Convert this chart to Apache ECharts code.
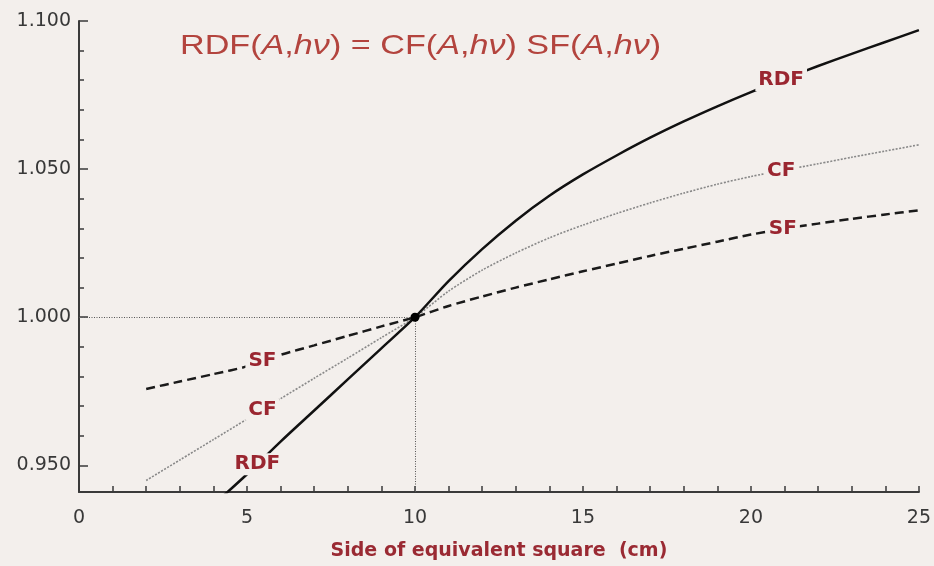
<!DOCTYPE html>
<html><head><meta charset="utf-8">
<script src="https://cdn.jsdelivr.net/npm/echarts@6/dist/echarts.min.js"></script>
<style>html,body{margin:0;padding:0;background:#f3efec;}#c{width:934px;height:566px;}</style>
</head><body><div id="c"></div>
<script>
// Side of equivalent square (cm)
const xSide = [2,3,4,5,6,7,8,9,10,11,12,13,14,15,16,17,18,19,20,21,22,23,24,25];
// CF(A,hv) - collimator factor (dotted)
const cfValues = [0.9449,0.9518,0.9587,0.9656,0.9725,0.9794,0.9862,0.9931,1.0000,1.0088,1.0159,1.0217,1.0268,1.0311,1.0350,1.0386,1.0419,1.0449,1.0475,1.0497,1.0518,1.0540,1.0561,1.0582];
// SF(A,hv) - phantom scatter factor (dashed)
const sfValues = [0.9758,0.9783,0.9808,0.9834,0.9873,0.9905,0.9937,0.9969,1.0000,1.0038,1.0070,1.0100,1.0128,1.0155,1.0181,1.0207,1.0231,1.0255,1.0279,1.0299,1.0316,1.0332,1.0347,1.0361];
// RDF(A,hv) (solid), starts below the axis minimum
const xSideRDF = [4,5,6,7,8,9,10,11,12,13,14,15,16,17,18,19,20,21,22,23,24,25];
const rdfValues = [0.9367,0.9470,0.9580,0.9685,0.9790,0.9895,1.0000,1.0122,1.0230,1.0326,1.0410,1.0482,1.0546,1.0606,1.0661,1.0712,1.0760,1.0805,1.0848,1.0889,1.0929,1.0969];
// reference field (10 cm, 1.000)
const refPoint = [10, 1.000];
// axis ticks and labels
const xLabelValues = [0,5,10,15,20,25];
const yMajorTicks = [0.95,1.00,1.05,1.10];
const yMinorTicks = [0.95,0.96,0.97,0.98,0.99,1.00,1.01,1.02,1.03,1.04,1.05,1.06,1.07,1.08,1.09,1.10];
// curve labels: text and the side (cm) along the curve where it sits
const curveLabelNames = ['RDF','CF','SF','SF','CF','RDF'];
const curveLabelSides = [20.9,20.9,20.95,5.46,5.46,5.31];

const BG = '#f3efec';
const LABEL_RED = '#9a2630';

function interp(xs, ys, x) {
  for (let i = 0; i < xs.length - 1; i++) {
    if (x >= xs[i] && x <= xs[i+1]) {
      const t = (x - xs[i]) / (xs[i+1] - xs[i]);
      return ys[i] + t * (ys[i+1] - ys[i]);
    }
  }
  return ys[ys.length-1];
}
const curveData = {
  RDF: [xSideRDF, rdfValues],
  CF: [xSide, cfValues],
  SF: [xSide, sfValues]
};
const labelPoints = curveLabelNames.map((n, i) => {
  const c = curveData[n];
  return { value: [curveLabelSides[i], interp(c[0], c[1], curveLabelSides[i])], name: n };
});

const zip = (xs, ys) => xs.map((x, i) => [x, ys[i]]);
const yMin = 0.941, yMax = 1.10;

const chart = echarts.init(document.getElementById('c'));
chart.setOption({
  backgroundColor: BG,
  animation: false,
  grid: { left: 79, right: 12, top: 21, bottom: 72 },
  xAxis: {
    type: 'value', min: 0, max: 25, interval: 1,
    axisLine: { show: true, onZero: false, lineStyle: { color: '#3a3a3a', width: 2 } },
    axisTick: { show: true, inside: true, length: 6, lineStyle: { color: '#3a3a3a', width: 1.5 } },
    axisLabel: {
      margin: 17, fontSize: 19, fontFamily: 'DejaVu Sans', color: '#383838',
      formatter: v => (xLabelValues.indexOf(v) >= 0 ? String(v) : '')
    },
    splitLine: { show: false },
    name: 'Side of equivalent square  (cm)',
    nameLocation: 'middle', nameGap: 50,
    nameTextStyle: { fontSize: 19, fontWeight: 'bold', fontFamily: 'DejaVu Sans', color: '#9a2a33' }
  },
  yAxis: [
    {
      type: 'value', min: yMin, max: yMax,
      axisLine: { show: true, onZero: false, lineStyle: { color: '#3a3a3a', width: 2 } },
      axisTick: { show: true, inside: true, length: 5, customValues: yMinorTicks, lineStyle: { color: '#3a3a3a', width: 1.5 } },
      axisLabel: { show: false },
      splitLine: { show: false }
    },
    {
      type: 'value', min: yMin, max: yMax, position: 'left',
      axisLine: { show: false },
      axisTick: { show: true, inside: true, length: 9, customValues: yMajorTicks, lineStyle: { color: '#3a3a3a', width: 1.5 } },
      axisLabel: {
        customValues: yMajorTicks, margin: 8, fontSize: 19, fontFamily: 'DejaVu Sans', color: '#383838',
        formatter: v => v.toFixed(3)
      },
      splitLine: { show: false }
    }
  ],
  graphic: [{
    type: 'text', left: 180, top: 32, scaleX: 1.22,
    style: {
      text: '{n|RDF(}{i|A}{n|,}{i|hν}{n|) = CF(}{i|A}{n|,}{i|hν}{n|) SF(}{i|A}{n|,}{i|hν}{n|)}',
      rich: {
        n: { fontSize: 28, fontFamily: 'Liberation Sans', fill: '#b3443e', fontStyle: 'normal' },
        i: { fontSize: 28, fontFamily: 'Liberation Sans', fill: '#b3443e', fontStyle: 'italic' }
      }
    }
  }],
  series: [
    {
      name: 'CF', type: 'line', data: zip(xSide, cfValues), smooth: 0.25, showSymbol: false, z: 2,
      lineStyle: { color: '#888', width: 1.6, type: [2, 1.5] }
    },
    {
      name: 'SF', type: 'line', data: zip(xSide, sfValues), smooth: 0.25, showSymbol: false, z: 3,
      lineStyle: { color: '#1a1a1a', width: 2.5, type: [9, 5] }
    },
    {
      name: 'RDF', type: 'line', data: zip(xSideRDF, rdfValues), smooth: 0.3, showSymbol: false, z: 4,
      lineStyle: { color: '#111', width: 2.5 }
    },
    {
      name: 'ref', type: 'scatter', data: [refPoint], symbolSize: 9, z: 5,
      itemStyle: { color: '#000', opacity: 1 },
      markLine: {
        silent: true, symbol: ['none', 'none'], label: { show: false },
        lineStyle: { color: '#555', width: 1, type: [1, 1.5] },
        data: [
          [{ coord: [0, refPoint[1]] }, { coord: refPoint }],
          [{ coord: [refPoint[0], yMin] }, { coord: refPoint }]
        ]
      }
    },
    {
      name: 'labels', type: 'scatter', data: labelPoints, symbolSize: 1, z: 10,
      itemStyle: { color: 'transparent', opacity: 1 },
      label: {
        show: true, position: 'inside', formatter: p => p.name, opacity: 1,
        fontSize: 20, fontWeight: 'bold', fontFamily: 'DejaVu Sans', color: LABEL_RED,
        backgroundColor: BG, padding: [1, 3]
      }
    }
  ]
});
</script></body></html>
